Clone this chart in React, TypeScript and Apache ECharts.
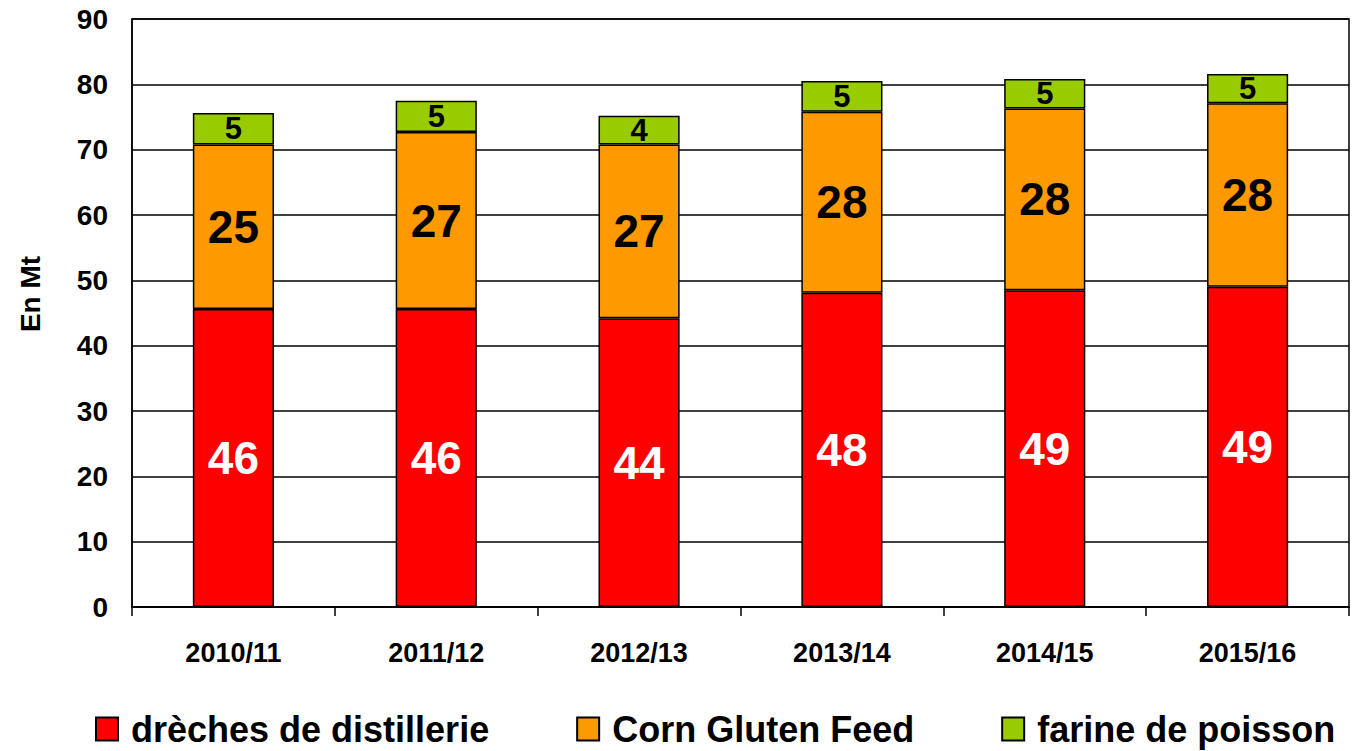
import React, { useEffect, useRef } from "react";
import * as echarts from "echarts";

const categories = ["2010/11", "2011/12", "2012/13", "2013/14", "2014/15", "2015/16"];
const dreches = [45.6, 45.6, 44.2, 48.1, 48.5, 49.0];
const cornGluten = [25.2, 27.1, 26.6, 27.7, 27.8, 28.1];
const farine = [4.8, 4.8, 4.4, 4.7, 4.5, 4.5];
const seriesNames = ["drèches de distillerie", "Corn Gluten Feed", "farine de poisson"];
const yTicks = [0, 10, 20, 30, 40, 50, 60, 70, 80, 90];

const FONT = '"Liberation Sans", Arial, sans-serif';

export default function App() {
  const ref = useRef<HTMLDivElement>(null);
  useEffect(() => {
    if (!ref.current) return;
    const chart = echarts.init(ref.current, null, { renderer: "svg" });
    const mkSeries = (name: string, data: number[], color: string, labelColor: string, labelSize: number) => ({
      name,
      type: "bar",
      stack: "total",
      data,
      barWidth: "40%",
      itemStyle: { color, borderColor: "#000", borderWidth: 1.5 },
      label: {
        show: true,
        position: "inside",
        color: labelColor,
        fontSize: labelSize,
        fontWeight: "bold",
        fontFamily: FONT,
        formatter: (p: any) => String(Math.round(p.value)),
      },
    });
    chart.setOption({
      animation: false,
      backgroundColor: "#fff",
      textStyle: { fontFamily: FONT },
      grid: { left: 132, right: 4, top: 19, bottom: 144, show: true, borderColor: "#000", borderWidth: 1.5 },
      xAxis: {
        type: "category",
        data: categories,
        axisLine: { lineStyle: { color: "#000", width: 1.5 } },
        axisTick: { show: true, length: 9, lineStyle: { color: "#000", width: 1.5 } },
        axisLabel: { color: "#000", fontSize: 27, fontWeight: "bold", fontFamily: FONT, margin: 32 },
      },
      yAxis: {
        type: "value",
        min: yTicks[0],
        max: yTicks[yTicks.length - 1],
        interval: 10,
        axisLine: { show: true, lineStyle: { color: "#000", width: 1.5 } },
        axisTick: { show: false },
        splitLine: { lineStyle: { color: "#000", width: 1.5 } },
        axisLabel: { color: "#000", fontSize: 28, fontWeight: "bold", fontFamily: FONT, margin: 24 },
      },
      legend: {
        left: 90,
        top: 706,
        icon: "rect",
        itemWidth: 22,
        itemHeight: 23,
        itemGap: 87,
        textStyle: { color: "#000", fontSize: 36, fontWeight: "bold", fontFamily: FONT, padding: [0, 0, 0, 8] },
        data: seriesNames,
      },
      graphic: [
        {
          type: "text",
          x: 30,
          y: 294,
          rotation: Math.PI / 2,
          style: {
            text: "En Mt",
            fill: "#000",
            font: `bold 28px ${FONT}`,
            align: "center",
            verticalAlign: "middle",
          },
        },
      ],
      series: [
        mkSeries(seriesNames[0], dreches, "#FF0000", "#fff", 46),
        mkSeries(seriesNames[1], cornGluten, "#FF9900", "#000", 46),
        mkSeries(seriesNames[2], farine, "#99CC00", "#000", 31),
      ],
    });
    return () => chart.dispose();
  }, []);
  return <div ref={ref} style={{ position: "fixed", left: 0, top: 0, width: 1353, height: 751 }} />;
}
